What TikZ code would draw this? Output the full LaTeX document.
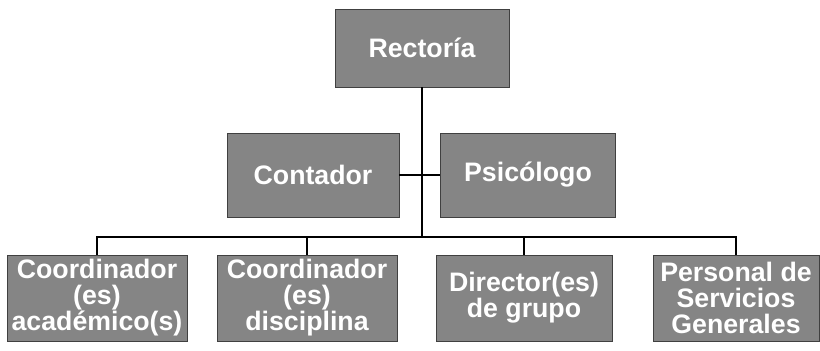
\documentclass[tikz,border=0pt]{standalone}
\usepackage{fontspec}
\setmainfont{Liberation Sans}

\tikzset{
  cargo/.style={rectangle, draw=black!75, fill=black!48, text=white,
    font=\fontsize{19}{18.5}\selectfont\bfseries, align=center,
    inner sep=1pt},
  enlace/.style={draw=black, line width=0.9pt}
}

\begin{document}
\begin{tikzpicture}[x=0.025cm, y=-0.025cm]
  \useasboundingbox (0,0) rectangle (820,350);

  \node[cargo, minimum width=174*0.025cm, minimum height=78*0.025cm] (rector) at (422,48) {Rectoría};

  \node[cargo, minimum width=172*0.025cm, minimum height=84*0.025cm] (contador) at (313,175) {Contador};
  \node[cargo, minimum width=175*0.025cm, minimum height=84*0.025cm] (psicologo) at (528,175) {Psicólogo};

  \begin{scope}[every node/.append style={minimum height=86*0.025cm}]
    \node[cargo, minimum width=180*0.025cm] (coordAcad) at (97,298) {Coordinador\\(es)\\académico(s)};
    \node[cargo, minimum width=180*0.025cm] (coordDisc) at (307,298) {Coordinador\\(es)\\disciplina};
    \node[cargo, minimum width=176*0.025cm] (director) at (524,298) {Director(es)\\de grupo};
    \node[cargo, minimum width=166*0.025cm] (personal) at (736,298) {Personal de\\Servicios\\Generales};
  \end{scope}

  % tronco y barra
  \coordinate (bus) at (422,237);
  \draw[enlace] (rector.south) -- (bus);
  \draw[enlace] (contador.east) -- (psicologo.west);
  \draw[enlace] (coordAcad.north) |- (bus) -| (personal.north);
  \draw[enlace] (coordDisc.north) -- (coordDisc.north |- bus);
  \draw[enlace] (director.north) -- (director.north |- bus);

\end{tikzpicture}
\end{document}
